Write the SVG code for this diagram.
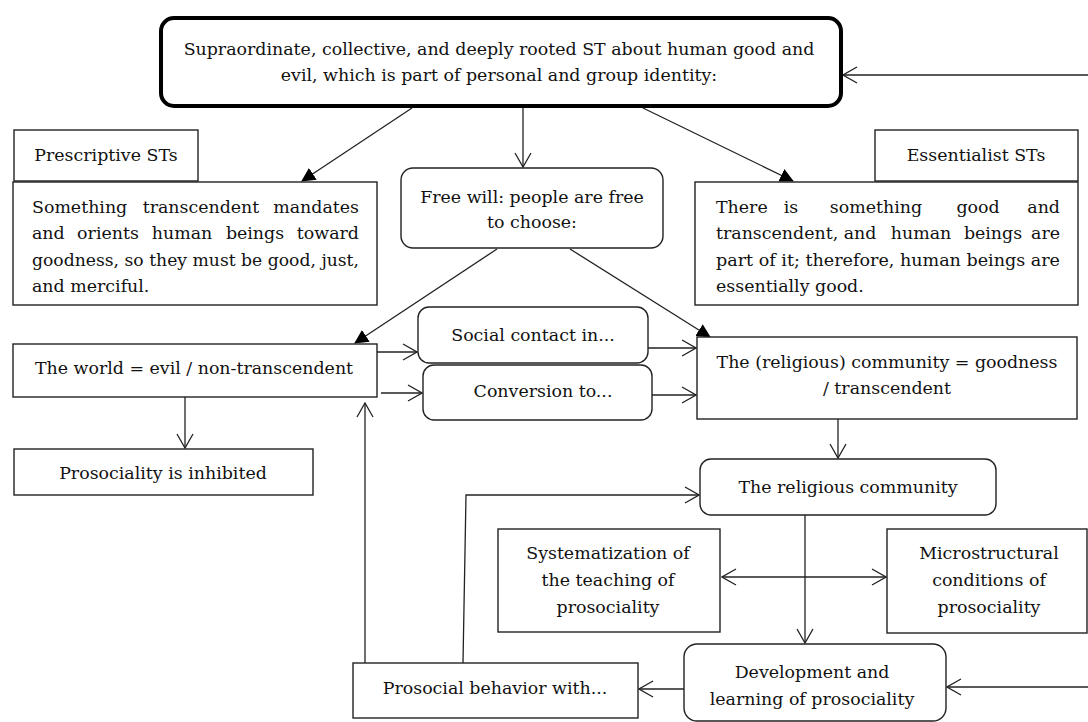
<svg xmlns="http://www.w3.org/2000/svg" width="1088" height="722" viewBox="0 0 1088 722">
<style>
text{font-family:"DejaVu Serif","Liberation Serif",serif;font-size:17.4px;fill:#111}
.c{text-anchor:middle}
.e{text-anchor:end}
.box{fill:#fff;stroke:#222;stroke-width:1.4}
.ln{fill:none;stroke:#222;stroke-width:1.3}
</style>
<defs>
<marker id="open" viewBox="0 0 16 18" refX="15" refY="9" markerWidth="16" markerHeight="18" markerUnits="userSpaceOnUse" orient="auto-start-reverse"><path d="M1,1 L15,9 L1,17" fill="none" stroke="#222" stroke-width="1.3"/></marker>
<marker id="tri" viewBox="0 0 14 14" refX="13" refY="7" markerWidth="14" markerHeight="14" markerUnits="userSpaceOnUse" orient="auto"><path d="M0,0 L14,7 L0,14 z" fill="#000"/></marker>
</defs>

<g id="connectors">
<path class="ln" d="M1088,75 L843,75" marker-end="url(#open)"/>
<path class="ln" d="M412,108 L302,181" marker-end="url(#tri)"/>
<path class="ln" d="M523,108 L523,167" marker-end="url(#open)"/>
<path class="ln" d="M643,108 L793,181" marker-end="url(#tri)"/>
<path class="ln" d="M497,249 L355,343" marker-end="url(#tri)"/>
<path class="ln" d="M570,249 L710,337" marker-end="url(#tri)"/>
<path class="ln" d="M377,352 L417,352" marker-end="url(#open)"/>
<path class="ln" d="M381,393 L422,393" marker-end="url(#open)"/>
<path class="ln" d="M648,348 L696,348" marker-end="url(#open)"/>
<path class="ln" d="M652,395 L696,395" marker-end="url(#open)"/>
<path class="ln" d="M185,397 L185,448" marker-end="url(#open)"/>
<path class="ln" d="M365,663 L365,403" marker-end="url(#open)"/>
<path class="ln" d="M463,663 L466,495 L699,495" marker-end="url(#open)"/>
<path class="ln" d="M838,419 L838,458" marker-end="url(#open)"/>
<path class="ln" d="M805,515 L805,643" marker-end="url(#open)"/>
<path class="ln" d="M722,577 L886,577" marker-start="url(#open)" marker-end="url(#open)"/>
<path class="ln" d="M1088,687 L947,687" marker-end="url(#open)"/>
<path class="ln" d="M684,689 L639,689" marker-end="url(#open)"/>
</g>

<g id="top">
<rect x="161" y="18" width="680" height="88" rx="13" fill="#fff" stroke="#000" stroke-width="4"/>
<text class="c" x="499" y="55">Supraordinate, collective, and deeply rooted ST about human good and</text>
<text class="c" x="499" y="81">evil, which is part of personal and group identity:</text>
</g>

<g id="prescriptive-label">
<rect class="box" x="14" y="130" width="184" height="51"/>
<text class="c" x="106" y="161">Prescriptive STs</text>
</g>

<g id="prescriptive">
<rect class="box" x="13" y="182" width="364" height="123"/>
<text x="32" y="213">Something</text>
<text class="c" x="201" y="213">transcendent</text>
<text class="e" x="359" y="213">mandates</text>
<text x="32" y="239">and</text>
<text class="c" x="108" y="239">orients</text>
<text class="c" x="182" y="239">human</text>
<text class="c" x="255" y="239">beings</text>
<text class="e" x="359" y="239">toward</text>
<text x="32" y="266" textLength="327" lengthAdjust="spacingAndGlyphs">goodness, so they must be good, just,</text>
<text x="32" y="292">and merciful.</text>
</g>

<g id="freewill">
<rect class="box" x="401" y="168" width="262" height="80" rx="12"/>
<text class="c" x="532" y="203">Free will: people are free</text>
<text class="c" x="532" y="228">to choose:</text>
</g>

<g id="essentialist-label">
<rect class="box" x="875" y="130" width="203" height="51"/>
<text class="c" x="976" y="161">Essentialist STs</text>
</g>

<g id="essentialist">
<rect class="box" x="695" y="182" width="383" height="123"/>
<text x="716" y="213">There</text>
<text class="c" x="791" y="213">is</text>
<text class="c" x="876" y="213">something</text>
<text class="c" x="978" y="213">good</text>
<text class="e" x="1060" y="213">and</text>
<text x="716" y="239">transcendent,</text>
<text class="c" x="860" y="239">and</text>
<text class="c" x="921" y="239">human</text>
<text class="c" x="993" y="239">beings</text>
<text class="e" x="1060" y="239">are</text>
<text x="716" y="266" textLength="344" lengthAdjust="spacingAndGlyphs">part of it; therefore, human beings are</text>
<text x="716" y="292">essentially good.</text>
</g>

<g id="world">
<rect class="box" x="13" y="344" width="364" height="53"/>
<text class="c" x="194" y="374">The world = evil / non-transcendent</text>
</g>

<g id="inhibited">
<rect class="box" x="14" y="449" width="299" height="46"/>
<text class="c" x="163" y="479">Prosociality is inhibited</text>
</g>

<g id="social">
<rect class="box" x="418" y="307" width="230" height="56" rx="11"/>
<text class="c" x="533" y="341">Social contact in...</text>
</g>

<g id="conversion">
<rect class="box" x="423" y="365" width="229" height="55" rx="11"/>
<text class="c" x="543" y="397">Conversion to...</text>
</g>

<g id="community">
<rect class="box" x="697" y="337" width="380" height="82"/>
<text class="c" x="887" y="368">The (religious) community = goodness</text>
<text class="c" x="887" y="394">/ transcendent</text>
</g>

<g id="religious">
<rect class="box" x="700" y="459" width="296" height="56" rx="11"/>
<text class="c" x="848" y="493">The religious community</text>
</g>

<g id="systematization">
<rect class="box" x="498" y="529" width="222" height="103"/>
<text class="c" x="608" y="559">Systematization of</text>
<text class="c" x="608" y="586">the teaching of</text>
<text class="c" x="608" y="613">prosociality</text>
</g>

<g id="microstructural">
<rect class="box" x="887" y="529" width="200" height="104"/>
<text class="c" x="989" y="559">Microstructural</text>
<text class="c" x="989" y="586">conditions of</text>
<text class="c" x="989" y="613">prosociality</text>
</g>

<g id="development">
<rect class="box" x="684" y="644" width="262" height="77" rx="13"/>
<text class="c" x="812" y="678">Development and</text>
<text class="c" x="812" y="705">learning of prosociality</text>
</g>

<g id="prosocial">
<rect class="box" x="353" y="663" width="285" height="55"/>
<text class="c" x="495" y="694">Prosocial behavior with...</text>
</g>
</svg>
